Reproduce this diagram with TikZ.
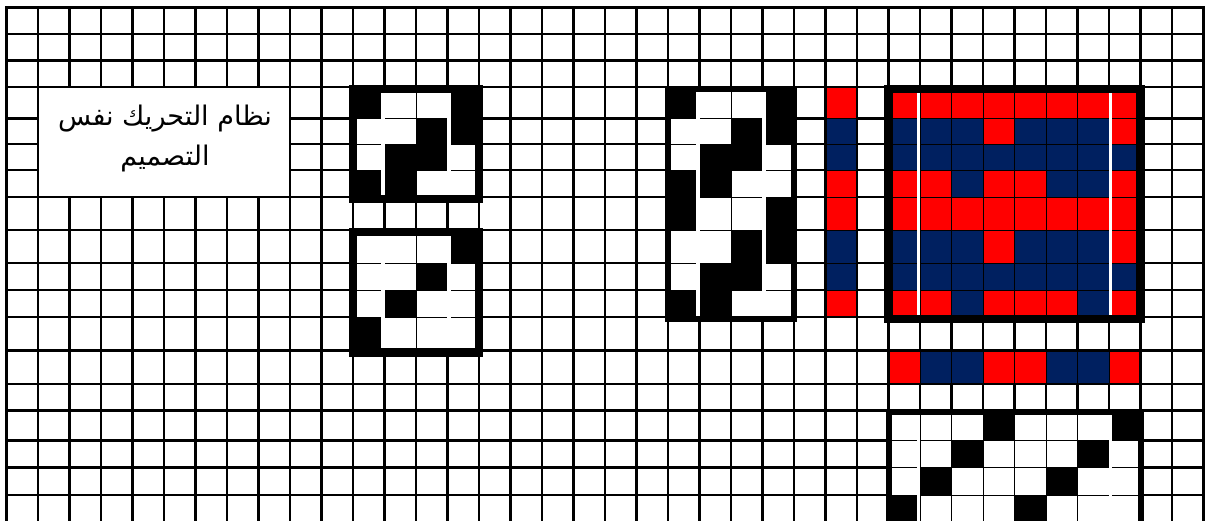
\documentclass[tikz,border=0pt]{standalone}
\usepackage{fontspec}
\usepackage{tikz}
\usetikzlibrary{calc}
\newfontfamily\arabicfont[Script=Arabic]{DejaVu Sans}
\TeXXeTstate=1
\definecolor{cellred}{RGB}{255,0,0}
\definecolor{cellblue}{RGB}{0,32,96}
\tikzset{
    gridline/.style={draw=black,line width=2.5pt,line cap=rect},
    thinline/.style={draw=black,line width=0.9pt},
    frame/.style={draw=black,line width=#1,line cap=rect},
    frame/.default=8.5pt,
    blk/.style={fill=black},
    rd/.style={fill=cellred},
    bl/.style={fill=cellblue},
    gap/.style={fill=white},
    txtbox/.style={draw,fill=white,line width=2.5pt},
    txt/.style={font={\arabicfont\fontsize{27}{40}\selectfont},align=center},
}
% cells col/row filled with a style
\newcommand\cells[2]{\foreach \c/\r in {#2}{%
    \pgfmathtruncatemacro\cn{\c+1}\pgfmathtruncatemacro\rn{\r+1}%
    \fill[#1] (v\c |- h\r) rectangle (v\cn |- h\rn);}}
% thin inner lines of a block
\newcommand\thin[4]{%
    \foreach \c in {#1,...,#2} \draw[thinline] (v\c |- h#3) -- (v\c |- h#4);
    \foreach \r in {#3,...,#4} \draw[thinline] (v#1 |- h\r) -- (v#2 |- h\r);}
% white slits beside the second and the last column line
\newcommand\gaps[4]{%
    \fill[gap] ($(v#1 |- h#3)+(-3.2,0)$) rectangle ($(v#1 |- h#4)+(0.4,0)$);
    \fill[gap] ($(v#2 |- h#3)+(-0.4,0)$) rectangle ($(v#2 |- h#4)+(3.2,0)$);}

\begin{document}
\begin{tikzpicture}[x=1pt,y=-1pt]
    \useasboundingbox (0,0) rectangle (1205,521);
    \clip (0,0) rectangle (1205,521);
    \fill[white] (0,0) rectangle (1205,521);
    % grid lines
    \foreach \k in {0,...,38} \coordinate (v\k) at ({6.5+31.5*\k},0);
    \foreach \yy [count=\i from 0] in {7.3,34,60.7,87,118.3,144,170,197,230,263,290,317,350.5,384,410.5,440.7,467.5,495,530}
        \coordinate (h\i) at (0,\yy);
    \foreach \k in {0,...,38} \draw[gridline] (v\k |- h0) -- (v\k |- h18);
    \foreach \i in {0,...,17} \draw[gridline] (v0 |- h\i) -- (v38 |- h\i);

    % title
    \draw[txtbox] (v1 |- h3) rectangle (v9 |- h7);
    \node[txt] (title) at (165,138) {\beginR نظام التحريك نفس\endR\\\beginR التصميم\endR};

    % first small digit
    \fill[white] (v11 |- h3) rectangle (v15 |- h7);
    \cells{blk}{11/3,14/3,13/4,14/4,12/5,13/5,11/6,12/6}
    \thin{11}{15}{3}{7}
    \gaps{12}{14}{3}{7}
    \draw[frame] ($(v11 |- h3)+(0,2)$) rectangle ($(v15 |- h7)+(0,2)$);

    % second small digit
    \fill[white] (v11 |- h8) rectangle (v15 |- h12);
    \cells{blk}{14/8,13/9,12/10,11/11}
    \thin{11}{15}{8}{12}
    \gaps{12}{14}{8}{12}
    \draw[frame] ($(v11 |- h8)+(0,2)$) rectangle ($(v15 |- h12)+(0,2)$);

    % tall digit
    \fill[white] (v21 |- h3) rectangle (v25 |- h11);
    \cells{blk}{21/3,24/3,23/4,24/4,22/5,23/5,21/6,22/6,21/7,24/7,23/8,24/8,22/9,23/9,21/10,22/10}
    \thin{21}{25}{3}{11}
    \gaps{22}{24}{3}{11}
    \draw[frame=6pt] ($(v21 |- h3)+(0,2)$) rectangle ($(v25 |- h11)+(0,2)$);

    % colour column
    \cells{rd}{26/3,26/6,26/7,26/10}
    \cells{bl}{26/4,26/5,26/8,26/9}
    \thin{26}{27}{3}{11}
    \draw[gridline] (v26 |- h3) rectangle (v27 |- h11);

    % colour square
    \fill[rd] (v28 |- h3) rectangle (v36 |- h11);
    \cells{bl}{28/4,29/4,30/4,32/4,33/4,34/4,
        28/5,29/5,30/5,31/5,32/5,33/5,34/5,35/5,
        30/6,33/6,34/6,
        28/8,29/8,30/8,32/8,33/8,34/8,
        28/9,29/9,30/9,31/9,32/9,33/9,34/9,35/9,
        30/10,34/10}
    \thin{28}{36}{3}{11}
    \gaps{29}{35}{3}{11}
    \draw[frame] ($(v28 |- h3)+(0,2)$) rectangle ($(v36 |- h11)+(0,2)$);

    % colour row
    \cells{rd}{28/12,31/12,32/12,35/12}
    \cells{bl}{29/12,30/12,33/12,34/12}
    \thin{28}{36}{12}{13}
    \draw[gridline] (v28 |- h12) rectangle (v36 |- h13);

    % wide digit
    \fill[white] (v28 |- h14) rectangle (v36 |- h18);
    \cells{blk}{31/14,35/14,30/15,34/15,29/16,33/16,28/17,32/17}
    \thin{28}{36}{14}{18}
    \gaps{29}{35}{14}{18}
    \draw[frame=6pt] ($(v28 |- h14)+(0,1.5)$) rectangle ($(v36 |- h18)+(0,1.5)$);
\end{tikzpicture}
\end{document}
